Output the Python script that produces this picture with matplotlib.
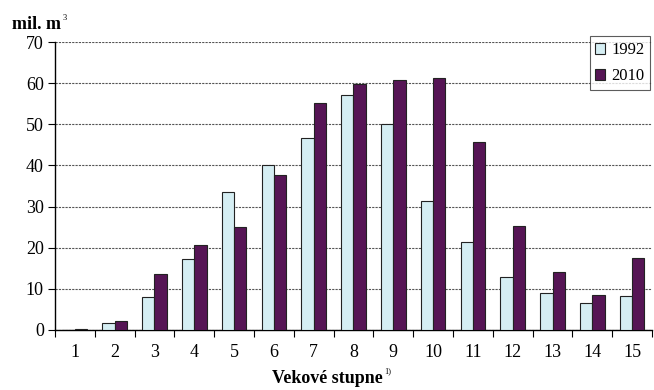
import numpy as np
import matplotlib.pyplot as plt

plt.rcParams['font.family'] = ['Liberation Serif', 'DejaVu Serif']

stupne = np.arange(1, 16)
v1992 = [0.0, 1.7, 8.0, 17.3, 33.5, 40.2, 46.6, 57.2, 50.0, 31.3, 21.5, 12.8, 9.0, 6.6, 8.3]
v2010 = [0.3, 2.2, 13.6, 20.6, 25.0, 37.8, 55.3, 59.7, 60.7, 61.2, 45.8, 25.3, 14.1, 8.5, 17.5]

fig = plt.figure(figsize=(6.54, 3.9), dpi=100)
ax = fig.add_axes([0.084, 0.154, 0.913, 0.738])

w = 0.31
ax.bar(stupne - w / 2, v1992, w, color='#d5eef3', edgecolor='#222222', linewidth=0.8,
       label='1992', zorder=3)
ax.bar(stupne + w / 2, v2010, w, color='#561555', edgecolor='#222222', linewidth=0.8,
       label='2010', zorder=3)

ax.set_xlim(0.5, 15.5)
ax.set_ylim(0, 70)
ax.set_yticks(np.arange(0, 71, 10))
ax.set_xticks(stupne)
ax.set_xticks(np.arange(0.5, 15.6, 1), minor=True)
ax.tick_params(axis='x', which='major', length=0, pad=10, labelsize=13)
ax.tick_params(axis='x', which='minor', length=5, direction='out', width=0.8)
ax.tick_params(axis='y', length=5, width=0.8, labelsize=13, pad=3)
ax.yaxis.grid(True, linestyle=(0, (2, 1)), color='#555555', linewidth=0.8, zorder=0)

for s in ['top', 'right']:
    ax.spines[s].set_visible(False)
ax.spines['left'].set_linewidth(1)
ax.spines['bottom'].set_linewidth(1)

# jednotky nad osou y
fig.text(0.018, 0.925, 'mil. m', fontsize=13, fontweight='bold', ha='left', va='baseline')
fig.text(0.095, 0.95, '3', fontsize=6, ha='left', va='baseline')

# popis osi x
fig.text(0.5, 0.018, 'Vekové stupne', fontsize=13, fontweight='bold', ha='center',
         va='baseline')
fig.text(0.587, 0.042, '1)', fontsize=6, ha='left', va='baseline')

leg = ax.legend(loc='upper right', bbox_to_anchor=(0.997, 1.02), fontsize=12, frameon=True,
                fancybox=False, edgecolor='#333333', handlelength=0.6, handleheight=0.6,
                handletextpad=0.35, borderpad=0.35, labelspacing=0.6, borderaxespad=0)
leg.get_frame().set_linewidth(0.8)

fig.savefig('out.png', dpi=100)
